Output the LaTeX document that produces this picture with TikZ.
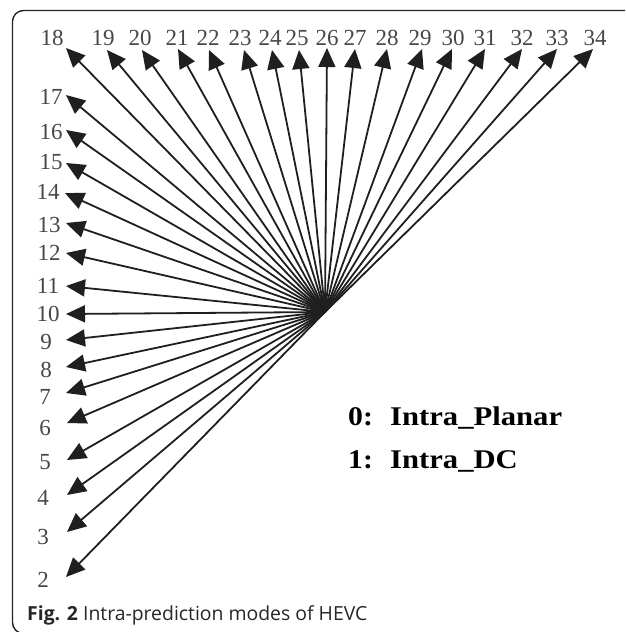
\documentclass[tikz,border=0pt]{standalone}
\usepackage{fontspec}
\setmainfont{Liberation Serif}
\newfontfamily\capfont{Open Sans}
\usetikzlibrary{arrows.meta}
\begin{document}
\begin{tikzpicture}[x=1pt,y=-1pt,
  ray/.style={line width=1.8pt, draw=black!88, -{Triangle[length=19pt,width=17pt]}},
  num/.style={inner sep=0pt, text=black!72, font=\fontsize{23}{23}\selectfont},
  legend/.style={inner sep=0pt, anchor=base west, font=\bfseries\fontsize{27}{27}\selectfont},
]
\useasboundingbox (0,0) rectangle (625,632);
\clip (0,0) rectangle (625,632);
\fill[white] (0,0) rectangle (625,632);
\draw[rounded corners=11pt, line width=1.4pt, black!85] (12.5,10.5) rectangle (700,633.5);

\coordinate (O) at (325,312);

% tips
\foreach \n/\x/\y in {18/66/48,19/107/50,20/142/50,21/178/49,22/209/50,23/244/50,24/272/50,25/299/50,
  26/327/48,27/355/49,28/387/49,29/422/49,30/452/49,31/485/49,32/522/49,33/557/49,34/593/49,
  17/66/95,16/66/130,15/66/163,14/65/193,13/66/223,12/66/253,11/66/286,10/66/314,9/66/340,
  8/66/367,7/66/393,6/67/423,5/67/460,4/67/495,3/67/532,2/66/577}
  {\coordinate (t\n) at (\x,\y);}

% labels
\foreach \n/\x/\y in {18/52/38,19/103/38,20/140/38,21/177/38,22/208/38,23/240/38,24/270/38,25/297/38,
  26/327/38,27/355/38,28/387/38,29/420/38,30/453/38,31/485/38,32/522/38,33/557/38,34/595/38,
  17/51/97,16/51/132,15/51/162,14/48/192,13/49/225,12/49/253,11/48/286,10/48/314,9/46/342,
  8/46/370,7/45/397,6/45/428,5/45/462,4/43/498,3/43/537,2/43/580}
  {\node[num] (l\n) at (\x,\y) {\n};}

% rays
\foreach \n in {2,...,34}
  {\draw[ray] (O) -- (t\n);}

% legend
\node[legend] (k0) at (348,425) {\scalebox{1.1}[1]{0:}};
\node[legend] (v0) at (390,425) {\scalebox{1.135}[1]{Intra\_Planar}};
\node[legend] (k1) at (348,468) {\scalebox{1.1}[1]{1:}};
\node[legend] (v1) at (390,468) {\scalebox{1.135}[1]{Intra\_DC}};

% caption
\node[inner sep=0pt, anchor=base west, font=\capfont\fontsize{19.4}{20}\selectfont, text=black!85] (cap) at (27,620)
  {\textbf{Fig. 2} Intra-prediction modes of HEVC};
\end{tikzpicture}
\end{document}
